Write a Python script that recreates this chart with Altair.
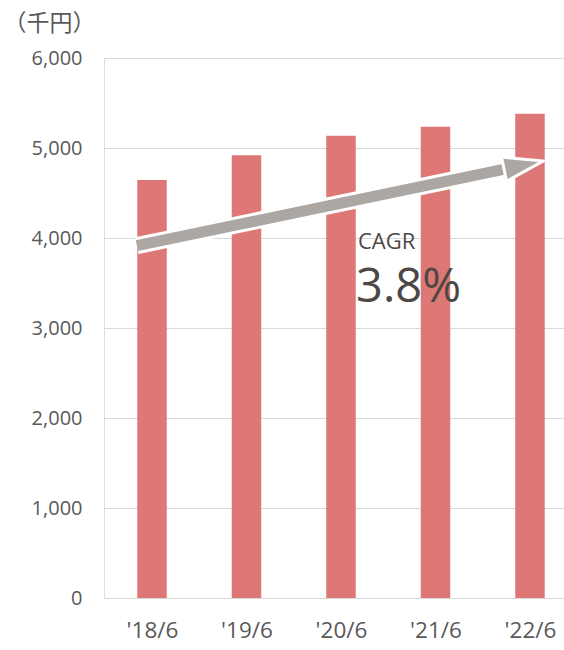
import json
import math
import altair as alt
import pandas as pd

# ---- data ----
categories = ["'18/6", "'19/6", "'20/6", "'21/6", "'22/6"]
values = [4645, 4920, 5135, 5235, 5380]          # 千円
y_ticks = [0, 1000, 2000, 3000, 4000, 5000, 6000]

# CAGR arrow (x in category-index units, y in 千円)
arrow_start = (-0.16, 3915)
arrow_tip = (4.14, 4855)
cagr_label = "CAGR"
cagr_value = "3.8%"
cagr_pos = (2.18, 3880)
cagr_value_pos = (2.16, 3285)

FONT = "Open Sans"
TXT = "#595959"
BAR = "#DD7876"
ARROW = "#ACA7A3"

W, H = 460, 540
x_dom = [-0.508, 4.36]
y_dom = [0, 6000]
px_x = W / (x_dom[1] - x_dom[0])
px_y = H / (y_dom[1] - y_dom[0])

# arrow head geometry (pixel space -> data space)
dxp = (arrow_tip[0] - arrow_start[0]) * px_x
dyp = (arrow_tip[1] - arrow_start[1]) * px_y
L = math.hypot(dxp, dyp)
ux, uy = dxp / L, dyp / L
head_len = 40
head_c = (arrow_tip[0] - ux * head_len / 2 / px_x, arrow_tip[1] - uy * head_len / 2 / px_y)
head_base = (arrow_tip[0] - ux * (head_len - 3) / px_x, arrow_tip[1] - uy * (head_len - 3) / px_y)
angle = (360 - math.degrees(math.atan2(dyp, dxp))) % 360

bars_df = pd.DataFrame({"i": list(range(len(categories))), "cat": categories, "v": values})
shaft_df = pd.DataFrame({"x": [arrow_start[0], head_base[0]], "y": [arrow_start[1], head_base[1]], "o": [0, 1]})
head_df = pd.DataFrame({"x": [head_c[0]], "y": [head_c[1]]})
txt_df = pd.DataFrame({"x": [cagr_pos[0]], "y": [cagr_pos[1]], "t": [cagr_label]})
txt2_df = pd.DataFrame({"x": [cagr_value_pos[0]], "y": [cagr_value_pos[1]], "t": [cagr_value]})

xs = alt.Scale(domain=x_dom, nice=False, zero=False, padding=0)
ys = alt.Scale(domain=y_dom, nice=False, padding=0)

label_expr = f"{json.dumps(categories)}[datum.value]"

bars = alt.Chart(bars_df).mark_bar(color=BAR, width=29.5).encode(
    x=alt.X("i:Q", scale=xs,
            axis=alt.Axis(values=list(range(len(categories))), labelExpr=label_expr,
                          title=None, grid=False, domain=False, ticks=False,
                          labelFont=FONT, labelFontSize=22.5, labelColor=TXT,
                          labelPadding=21)),
    y=alt.Y("v:Q", scale=ys,
            axis=alt.Axis(values=y_ticks, format=",.0f", grid=True, gridColor="#D9D9D9",
                          gridWidth=1, domain=False, ticks=False,
                          labelFont=FONT, labelFontSize=20, labelColor=TXT,
                          labelPadding=22,
                          title="（千円）", titleAngle=0, titleAlign="left",
                          titleBaseline="middle", titleX=-101, titleY=-35,
                          titleFont="Noto Sans CJK JP", titleFontSize=23,
                          titleFontWeight="normal", titleColor=TXT)),
)

shaft_white = alt.Chart(shaft_df).mark_line(color="white", strokeWidth=17, strokeCap="butt").encode(
    x=alt.X("x:Q", scale=xs), y=alt.Y("y:Q", scale=ys), order="o:Q")
shaft = alt.Chart(shaft_df).mark_line(color=ARROW, strokeWidth=11, strokeCap="butt").encode(
    x=alt.X("x:Q", scale=xs), y=alt.Y("y:Q", scale=ys), order="o:Q")

head = alt.Chart(head_df).mark_point(
    shape="M-1,-0.62L1,0L-1,0.62Z", filled=True, fill=ARROW, fillOpacity=1,
    stroke="white", strokeWidth=3, strokeOpacity=1, size=head_len ** 2, angle=angle,
).encode(x=alt.X("x:Q", scale=xs), y=alt.Y("y:Q", scale=ys))

t1 = alt.Chart(txt_df).mark_text(font=FONT, fontSize=22, color="#4D4845", align="left",
                                 baseline="alphabetic").encode(
    x=alt.X("x:Q", scale=xs), y=alt.Y("y:Q", scale=ys), text="t:N")
t2 = alt.Chart(txt2_df).mark_text(font=FONT, fontSize=47, color="#4D4845", align="left",
                                  baseline="alphabetic").encode(
    x=alt.X("x:Q", scale=xs), y=alt.Y("y:Q", scale=ys), text="t:N")

chart = alt.layer(bars, shaft_white, shaft, head, t1, t2).properties(
    width=W, height=H,
    autosize=alt.AutoSizeParams(type="none"),
    padding={"left": 104, "top": 58, "right": 0, "bottom": 52},
).configure_view(stroke=None).configure(background="white")

chart.save("out.html", embed_options={"renderer": "svg", "actions": False})
